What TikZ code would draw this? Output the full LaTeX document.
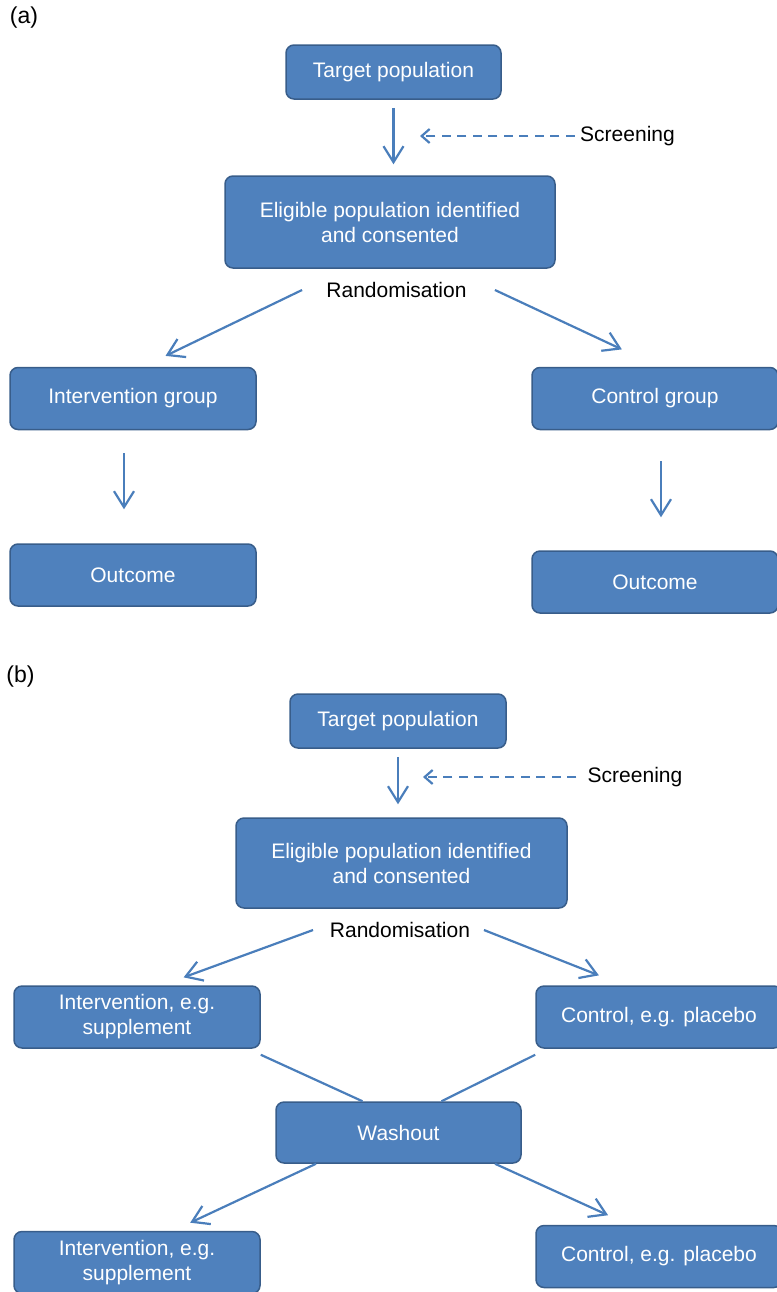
\documentclass[tikz,border=0pt]{standalone}
\usepackage{fontspec}
\setmainfont{Liberation Sans}
\usetikzlibrary{arrows.meta}

\definecolor{boxblue}{HTML}{4F81BD}
\definecolor{boxline}{HTML}{385D8A}
\definecolor{arrowblue}{HTML}{4A7EBB}

\begin{document}
\begin{tikzpicture} [%
    x = 0.5pt, y = -0.5pt,
    >= {Straight Barb[length=8pt, width=10pt]},
    every node/.style = {font = \fontsize{10.5}{12.5}\selectfont},
    box/.style = {%
      draw = boxline, fill = boxblue,
      line width = 0.75pt,
      rounded corners = 4pt,
      text = white, align = center,
      inner sep = 0pt,
      minimum width = 123pt, minimum height = 31pt },
    lbl/.style = {text = black, inner sep = 1.5pt},
    panel/.style = {lbl, font = \fontsize{11.5}{13}\selectfont},
    link/.style = {color = arrowblue, line width = 1.1pt},
    screen/.style = {dash pattern = on 4.5pt off 3.25pt,
      arrows = {-Straight Barb[length=4pt, width=7pt]}}
  ]

\useasboundingbox (0,0) rectangle (777,1292);
\clip (0,0) rectangle (777,1292);

% (a)
\node[panel]                                              (pa)     at (24,18)      {(a)};
\node[box, minimum width=107.5pt, minimum height=27pt]   (tgt_a)  at (393.5,72)   {Target population};
\node[lbl]                                                (scr_a)  at (627.5,136)  {Screening};
\node[box, minimum width=165pt, minimum height=46pt]     (elig_a) at (390,222)    {Eligible population identified\\and consented};
\node[lbl]                                                (rand_a) at (396.5,290)  {Randomisation};
\node[box]                                                (int_a)  at (133,398.5)  {Intervention group};
\node[box]                                                (ctl_a)  at (655,398.5)  {Control group};
\node[box]                                                (out_a1) at (133,575)    {Outcome};
\node[box]                                                (out_a2) at (655,582)    {Outcome};

% (b)
\node[panel]                                              (pb)     at (20.5,677)   {(b)};
\node[box, minimum width=108pt, minimum height=27pt]     (tgt_b)  at (398,721)    {Target population};
\node[lbl]                                                (scr_b)  at (635,777)    {Screening};
\node[box, minimum width=165.5pt, minimum height=45pt]   (elig_b) at (401.5,863)  {Eligible population identified\\and consented};
\node[lbl]                                                (rand_b) at (400,930)    {Randomisation};
\node[box]                                                (int_b1) at (137,1017)   {Intervention, e.g.\\supplement};
\node[box]                                                (ctl_b1) at (659,1017)   {Control, e.g. placebo};
\node[box, minimum width=122.5pt, minimum height=30.5pt] (wash)   at (398.5,1132.5) {Washout};
\node[box]                                                (int_b2) at (137,1262.5) {Intervention, e.g.\\supplement};
\node[box]                                                (ctl_b2) at (659,1256.5) {Control, e.g. placebo};

\path[->, link]
(tgt_a.south) edge [shorten <= 4pt, shorten >= 5.5pt] (tgt_a.south |- elig_a.north)
(scr_a.west) edge [screen, shorten <= 1pt, shorten >= 13.25pt] (scr_a.west -| tgt_a.south)
([xshift=-10.5pt]rand_a.west) edge [shorten >= 12.5pt] ([xshift=5pt]int_a.north)
([xshift=12.5pt]rand_a.east) edge [shorten >= 20.5pt] ([xshift=2pt]ctl_a.north)
([xshift=-4.5pt]int_a.south) edge [shorten <= 11.5pt, shorten >= 17pt] ([xshift=-4.5pt]out_a1.north)
([xshift=3pt]ctl_a.south) edge [shorten <= 15.5pt, shorten >= 16.5pt] ([xshift=3pt]out_a2.north)

(tgt_b.south) edge [shorten <= 4pt, shorten >= 6.5pt] (tgt_b.south |- elig_b.north)
(scr_b.west) edge [screen, shorten <= 4pt, shorten >= 12.5pt] (scr_b.west -| tgt_b.south)
([xshift=-6.75pt]rand_b.west) edge [shorten >= 11.5pt] ([xshift=12.5pt]int_b1.north)
([xshift=5.25pt]rand_b.east) edge [shorten >= 13.5pt] ([xshift=-17.5pt]ctl_b1.north)
([xshift=-41.25pt]wash.south) edge [shorten >= 9.5pt] ([xshift=18pt]int_b2.north)
([xshift=48.25pt]wash.south) edge [shorten >= 11.5pt] ([xshift=-15pt]ctl_b2.north);

\path[link]
([yshift=-3pt]int_b1.south east) edge ([xshift=-18pt]wash.north)
([yshift=-3pt]ctl_b1.south west) edge ([xshift=21.5pt]wash.north);

\end{tikzpicture}
\end{document}
